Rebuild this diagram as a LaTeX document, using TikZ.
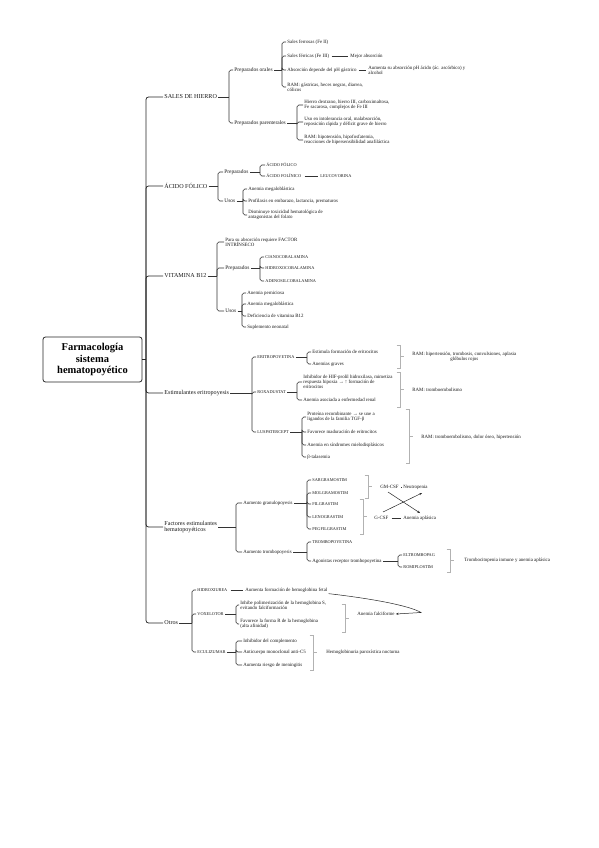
\documentclass[tikz,border=0pt]{standalone}
\usepackage{fontspec}
\setmainfont{Liberation Serif}
\usetikzlibrary{arrows.meta,calc}
\tikzset{
  conn/.style={draw=black!80, line width=0.55pt, rounded corners=1.8pt},
  mainconn/.style={draw=black!85, line width=0.75pt, rounded corners=2.5pt},
  rb/.style={draw=black!30, line width=0.45pt},
  base/.style={anchor=west, inner sep=1.2pt, align=left, text=black!90},
  lone/.style={base, font=\fontsize{6.1}{6.7}\selectfont},
  ltwo/.style={base, font=\fontsize{5.4}{5.9}\selectfont},
  itm/.style={base, font=\fontsize{4.9}{5.3}\selectfont},
  capn/.style={base, font=\fontsize{4.3}{5}\selectfont},
  arr/.style={draw=black!85, line width=0.5pt, -{Stealth[length=2.6pt,width=2.2pt]}},
  titlebox/.style={draw=black!85, line width=0.8pt, rounded corners=2.5pt, minimum width=99, minimum height=45, align=center, inner sep=2pt, font=\fontsize{10.5}{11.2}\selectfont\bfseries}
}
\newcommand\brk[3]{%
  \path let \p1=(#1.east) in (#2pt,\y1) coordinate (#1-b);
  \draw[conn] (#1.east) -- (#1-b);
  \foreach \c in {#3} {\draw[conn] (#1-b) |- (\c.west);}
}
\newcommand\rbk[4]{% x, ytop, ybot, name
  \draw[rb] (#1-3.5,#2) -- (#1,#2) -- (#1,#3) -- (#1-3.5,#3);
  \coordinate (#4) at (#1,{(#2+#3)/2});
  \draw[rb] (#4) -- ++(4,0);
}
\begin{document}
\begin{tikzpicture}[x=1pt,y=-1pt]
\useasboundingbox (0,0) rectangle (599,848);
\fill[white] (0,0) rectangle (599,848);

% title
\node[titlebox] (T) at (92.5,359.5) {Farmacología\\sistema\\hematopoyético};
\coordinate (M) at (146,359.5);

% level 1
\node[lone] (s1) at (163,97) {SALES DE HIERRO};
\node[lone] (s2) at (163,186) {ÁCIDO FÓLICO};
\node[lone] (s3) at (163,276) {VITAMINA B12};
\node[lone] (s4) at (163,393) {Estimulantes eritropoyesis};
\node[lone] (s5) at (163,527) {Factores estimulantes\\hematopoyéticos};
\node[lone] (s6) at (163,623) {Otros};
\draw[mainconn] (T.east) -- (M);
\foreach \c in {s1,s2,s3,s4,s5,s6} {\draw[mainconn] (M) |- (\c.west);}

% ---------- SALES DE HIERRO
\node[ltwo] (po) at (233,70) {Preparados orales};
\node[ltwo] (pp) at (233,123) {Preparados parenterales};
\brk{s1}{229}{po,pp}

\node[itm] (po1) at (286,42) {Sales ferrosas (Fe II)};
\node[itm] (po2) at (286,56) {Sales férricas (Fe III)};
\node[itm] (po2r) at (349,56) {Mejor absorción};
\node[itm] (po3) at (286,70) {Absorción depende del pH gástrico};
\node[itm] (po3r) at (367,70) {Aumenta su absorción pH ácido (ác. ascórbico) y\\alcohol};
\node[itm] (po4) at (286,87) {RAM: gástricas, heces negras, diarrea,\\cólicos};
\brk{po}{282}{po1,po2,po3,po4}
\draw[conn,shorten <=1pt,shorten >=1pt] (po2.east) -- (po2r.west);
\draw[conn,shorten <=1pt,shorten >=1pt] (po3.east) -- (po3r.west);

\node[itm] (pp1) at (303,105) {Hierro dextrano, hierro III, carboximaltosa,\\Fe sacarosa, complejos de Fe III};
\node[itm] (pp2) at (303,122) {Uso en intolerancia oral, malabsorción,\\reposición rápida y déficit grave de hierro};
\node[itm] (pp3) at (303,140) {RAM: hipotensión, hipofosfatemia,\\reacciones de hipersensibilidad anafiláctica};
\brk{pp}{297}{pp1,pp2,pp3}

% ---------- ACIDO FOLICO
\node[ltwo] (fp) at (223,172) {Preparados};
\node[ltwo] (fu) at (223,201) {Usos};
\brk{s2}{218}{fp,fu}
\node[capn] (fp1) at (265,165) {ÁCIDO FÓLICO};
\node[capn] (fp2) at (265,176) {ÁCIDO FOLÍNICO};
\node[capn] (fp2r) at (319,176) {LEUCOVORINA};
\brk{fp}{260}{fp1,fp2}
\draw[conn,shorten <=2pt,shorten >=1pt] (fp2.east) -- (fp2r.west);
\node[itm] (fu1) at (247,189) {Anemia megaloblástica};
\node[itm] (fu2) at (247,201) {Profilaxis en embarazo, lactancia, prematuros};
\node[itm] (fu3) at (247,215) {Disminuye toxicidad hematológica de\\antagonistas del folato};
\brk{fu}{243}{fu1,fu2,fu3}

% ---------- VITAMINA B12
\node[itm] (b0) at (224,242) {Para su absorción requiere FACTOR\\INTRÍNSECO};
\node[ltwo] (bp) at (224,268) {Preparados};
\node[ltwo] (bu) at (224,311) {Usos};
\brk{s3}{217}{b0,bp,bu}
\node[capn] (bc1) at (264,257) {CIANOCOBALAMINA};
\node[capn] (bc2) at (264,268) {HIDROXOCOBALAMINA};
\node[capn] (bc3) at (264,281) {ADENOSILCOBALAMINA};
\brk{bp}{260}{bc1,bc2,bc3}
\node[itm] (bu1) at (246,293) {Anemia perniciosa};
\node[itm] (bu2) at (246,304) {Anemia megaloblástica};
\node[itm] (bu3) at (246,316) {Deficiencia de vitamina B12};
\node[itm] (bu4) at (246,327) {Suplemento neonatal};
\brk{bu}{242}{bu1,bu2,bu3,bu4}

% ---------- ESTIMULANTES ERITROPOYESIS
\node[capn] (e1) at (256,357) {ERITROPOYETINA};
\node[capn] (e2) at (256,392) {ROXADUSTAT};
\node[capn] (e3) at (256,432) {LUSPATERCEPT};
\brk{s4}{252}{e1,e2,e3}
\node[itm] (e1a) at (311,352) {Estimula formación de eritrocitos};
\node[itm] (e1b) at (311,364) {Anemias graves};
\brk{e1}{307}{e1a,e1b}
\node[itm] (e2a) at (302,382) {Inhibidor de HIF-prolil hidroxilasa, mimetiza\\respuesta hipoxia → ↑ formación de\\eritrocitos};
\node[itm] (e2b) at (302,400) {Anemia asociada a enfermedad renal};
\brk{e2}{297}{e2a,e2b}
\node[itm] (e3a) at (306,417) {Proteína recombinante → se une a\\ligandos de la familia TGF-β};
\node[itm] (e3b) at (306,432) {Favorece maduración de eritrocitos};
\node[itm] (e3c) at (306,445) {Anemia en síndromes mielodisplásicos};
\node[itm] (e3d) at (306,457) {β-talasemia};
\brk{e3}{302}{e3a,e3b,e3c,e3d}

\rbk{400}{345}{368}{rb1}
\node[itm, align=center] (r1) at (411,357) {RAM: hipertensión, trombosis, convulsiones, aplasia\\glóbulos rojos};
\rbk{400}{372}{407}{rb2}
\node[itm] (r2) at (411,390) {RAM: tromboembolismo};
\rbk{409}{409}{463}{rb3}
\node[itm] (r3) at (420,437) {RAM: tromboembolismo, dolor óseo, hipertensión};

% ---------- FACTORES ESTIMULANTES
\node[itm] (fg) at (242,503) {Aumento granulopoyesis};
\node[itm] (ft) at (242,552) {Aumento trombopoyesis};
\brk{s5}{236}{fg,ft}
\node[capn] (g1) at (311,480) {SARGRAMOSTIM};
\node[capn] (g2) at (311,493) {MOLGRAMOSTIM};
\node[capn] (g3) at (311,504) {FILGRASTIM};
\node[capn] (g4) at (311,517) {LENOGRASTIM};
\node[capn] (g5) at (311,529) {PEGFILGRASTIM};
\brk{fg}{307}{g1,g2,g3,g4,g5}

\rbk{368}{475}{498}{gmb}
\node[itm] (gm) at (379,487) {GM-CSF};
\node[itm] (neu) at (402,487) {Neutropenia};
\draw[conn,shorten <=1pt,shorten >=1pt] (gm.east) -- (neu.west);
\rbk{363}{499}{534}{gb}
\node[itm] (gc) at (373,518) {G-CSF};
\node[itm] (apl) at (402,518) {Anemia aplásica};
\draw[conn,shorten <=2pt,shorten >=1pt] (gc.east) -- (apl.west);
\coordinate (xa1) at (383,512);
\coordinate (xa2) at (422,493);
\coordinate (xb1) at (388,492);
\coordinate (xb2) at (420,513);
\draw[arr] (xa1) -- (xa2);
\draw[arr] (xb1) -- (xb2);

\node[capn] (t1) at (311,542) {TROMBOPOYETINA};
\node[itm] (t2) at (311,561) {Agonistas receptor trombopoyetina};
\brk{ft}{307}{t1,t2}
\node[capn] (t2a) at (402,555) {ELTROMBOPAG};
\node[capn] (t2b) at (402,567) {ROMIPLOSTIM};
\brk{t2}{398}{t2a,t2b}
\rbk{450}{549}{572}{tb}
\node[itm] (tr) at (463,560.5) {Trombocitopenia inmune y anemia aplásica};

% ---------- OTROS
\node[capn] (o1) at (196,590) {HIDROXIUREA};
\node[capn] (o2) at (196,614) {VOXELOTOR};
\node[capn] (o3) at (196,652) {ECULIZUMAB};
\brk{s6}{192}{o1,o2,o3}
\node[itm] (o1r) at (244,590) {Aumenta formación de hemoglobina fetal};
\draw[conn,shorten <=2pt,shorten >=1pt] (o1.east) -- (o1r.west);
\node[itm] (o2a) at (239,605) {Inhibe polimerización de la hemoglobina S,\\evitando falciformación};
\node[itm] (o2b) at (239,624) {Favorece la forma R de la hemoglobina\\(alta afinidad)};
\brk{o2}{236}{o2a,o2b}
\rbk{345}{604}{632}{fb}
\node[itm] (falc) at (356,614) {Anemia falciforme};
\coordinate (fc) at (421,612.5);
\draw[arr] (o1r.south east) .. controls (375,599) and (410,606) .. (fc) -- (falc.east);
\node[itm] (o3a) at (242,641) {Inhibidor del complemento};
\node[itm] (o3b) at (242,652) {Anticuerpo monoclonal anti-C5};
\node[itm] (o3c) at (242,665) {Aumenta riesgo de meningitis};
\brk{o3}{236}{o3a,o3b,o3c}
\rbk{313}{635}{670}{hb}
\node[itm] (hpn) at (325,652.5) {Hemoglobinuria paroxística nocturna};
\end{tikzpicture}
\end{document}
